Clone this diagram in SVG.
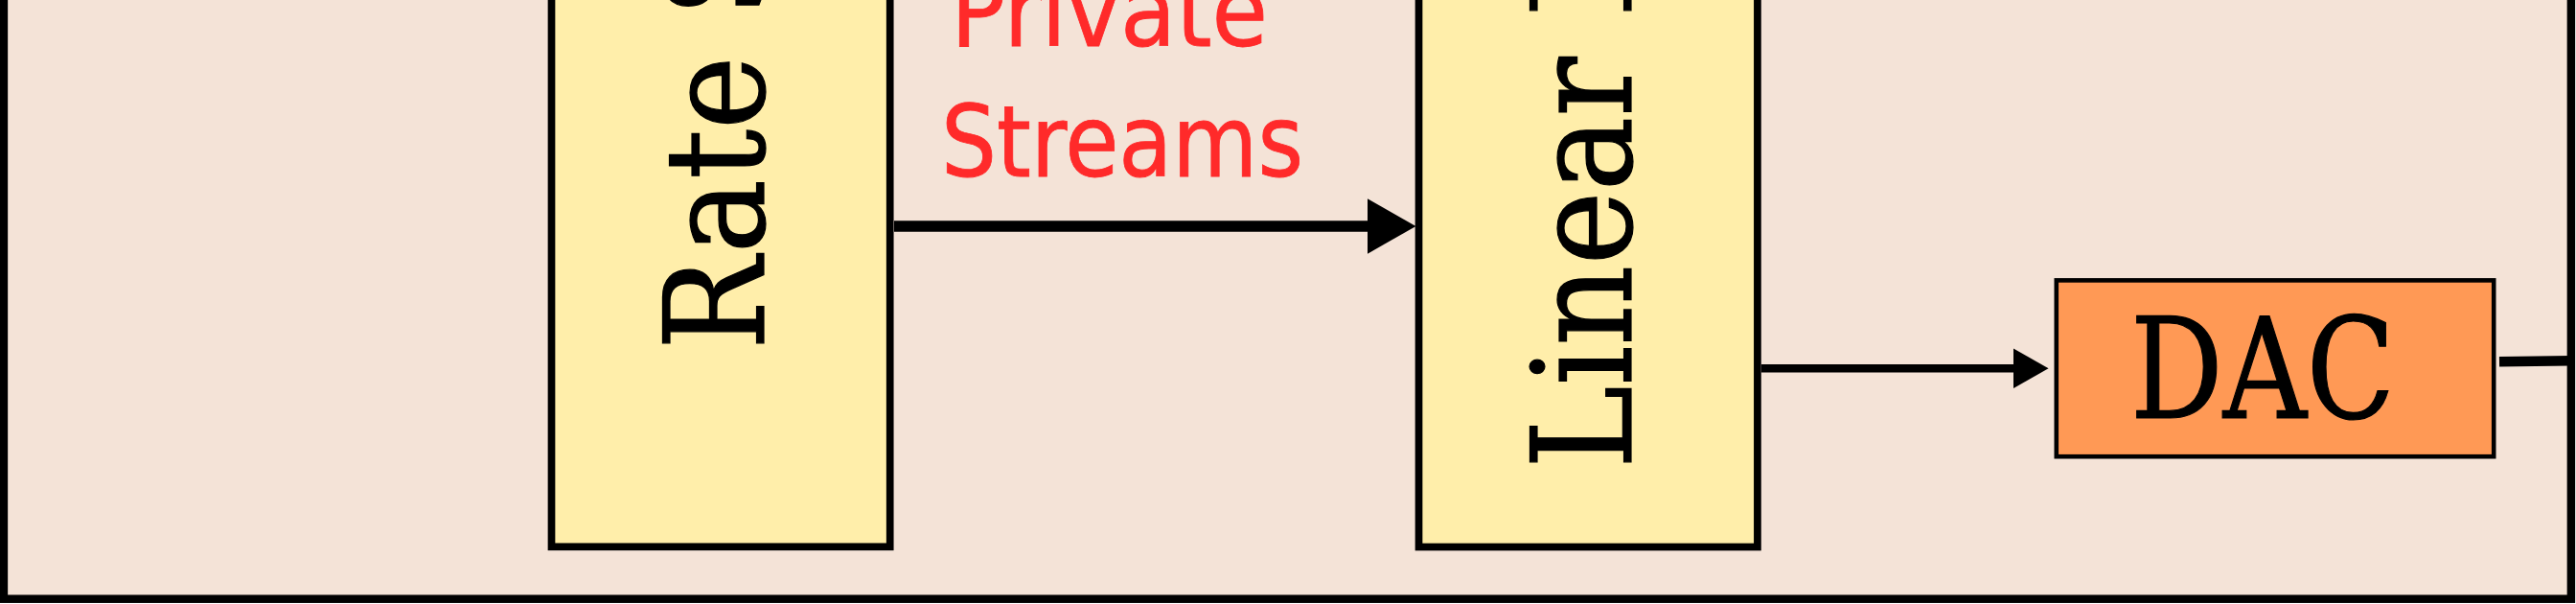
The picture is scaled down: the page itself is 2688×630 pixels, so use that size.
<svg xmlns="http://www.w3.org/2000/svg" width="2688" height="630" viewBox="0 0 2688 630">
  <defs>
    <style>
      .frame { fill: #f4e3d7; stroke: #000; stroke-width: 8.5; }
      .block { fill: #ffeeaa; stroke: #000; stroke-width: 7.7; }
      .dac { fill: #ff9955; stroke: #000; stroke-width: 4.6; }
      .serif { font-family: 'DejaVu Serif Condensed', 'DejaVu Serif', serif; font-stretch: condensed; fill: #000; stroke: #000; stroke-width: 1.2; }
      .label { font-family: 'DejaVu Sans Condensed', 'DejaVu Sans', sans-serif; font-stretch: condensed; fill: #ff2a2a; stroke: #ff2a2a; stroke-width: 0.8; font-size: 103px; }
      .conn { stroke: #000; fill: none; }
    </style>
    <marker id="arrow" viewBox="0 0 4.3 4.9" refX="0" refY="2.45" markerWidth="4.3" markerHeight="4.9" markerUnits="strokeWidth" orient="auto">
      <path d="M0,0 L4.3,2.45 L0,4.9 Z" fill="#000"/>
    </marker>
  </defs>

  <g id="frame">
    <rect class="frame" x="3.9" y="-100" width="2679" height="724.7"/>
  </g>

  <g id="rate-splitter">
    <rect class="block" x="575.5" y="-100" width="353.2" height="670.3"/>
    <text class="serif" font-size="144" transform="translate(797,365) rotate(-90)">Rate S</text>
  </g>

  <g id="linear-precoder">
    <rect class="block" x="1480.5" y="-100" width="353.4" height="670.5"/>
    <text class="serif" font-size="145" transform="translate(1702,489) rotate(-90)">Linear P</text>
  </g>

  <g id="dac">
    <rect class="dac" x="2145.8" y="292.4" width="456.4" height="183.8"/>
    <text class="serif" font-size="146" x="2223" y="435.6" textLength="276" lengthAdjust="spacingAndGlyphs">DAC</text>
  </g>

  <g id="private-streams-label">
    <text class="label" x="992" y="48.3" textLength="331" lengthAdjust="spacingAndGlyphs">Private</text>
    <text class="label" x="982" y="184.3" textLength="378" lengthAdjust="spacingAndGlyphs">Streams</text>
  </g>

  <g id="connectors">
    <line class="conn" x1="933" y1="236" x2="1427" y2="236" stroke-width="11.7" marker-end="url(#arrow)"/>
    <line class="conn" x1="1838" y1="384.2" x2="2101" y2="384.2" stroke-width="8.5" marker-end="url(#arrow)"/>
    <line class="conn" x1="2608" y1="377.3" x2="2683" y2="376.2" stroke-width="10.6"/>
  </g>
</svg>
